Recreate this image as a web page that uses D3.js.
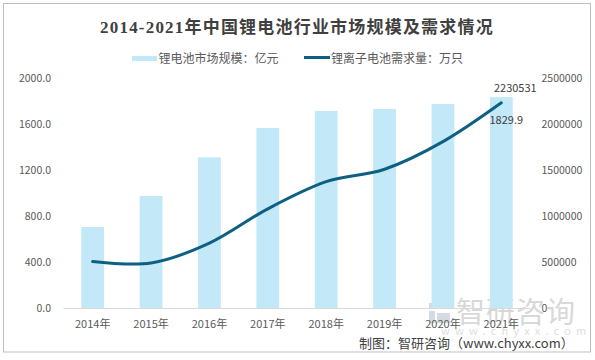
<!DOCTYPE html>
<html><head><meta charset="utf-8">
<script src="https://cdn.jsdelivr.net/npm/d3@7"></script>
<style>
html,body{margin:0;padding:0;background:#fff;}
svg{display:block;}
text{font-family:"Microsoft YaHei","Noto Sans CJK SC","Noto Sans",sans-serif;}
</style></head>
<body><svg id="c" width="595" height="360"></svg>
<script>
const categories = ["2014年","2015年","2016年","2017年","2018年","2019年","2020年","2021年"];
const marketSize = [703, 973, 1307, 1562, 1710, 1727, 1770, 1829.9];      // 亿元
const demand = [505000, 490000, 705000, 1078000, 1373000, 1508000, 1808000, 2230531]; // 万只
const leftTicks = [0, 400, 800, 1200, 1600, 2000];
const rightTicks = [0, 500000, 1000000, 1500000, 2000000, 2500000];
const title = "2014-2021年中国锂电池行业市场规模及需求情况";
const legendBar = "锂电池市场规模：亿元";
const legendLine = "锂离子电池需求量：万只";
const credit = "制图：智研咨询（www.chyxx.com）";

const svg = d3.select("#c");
const barColor = "#c3e8f8", lineColor = "#0d6082", textColor = "#595959";

// outer border
svg.append("rect").attr("x",3.5).attr("y",3.5).attr("width",587).attr("height",348.5)
  .attr("fill","none").attr("stroke","#bfbfbf").attr("stroke-width",1);

const x = d3.scaleBand().domain(categories).range([63.5, 530.5]).padding(0);
const yL = d3.scaleLinear().domain([0, 2000]).range([308, 77.5]);
const yR = d3.scaleLinear().domain([0, 2500000]).range([308, 78]);
const barW = x.bandwidth() * 0.39;

// title
svg.append("text").attr("x", 297).attr("y", 32.5).attr("text-anchor","middle")
  .attr("font-size", 17).attr("font-weight","bold").attr("fill","#404040")
  .attr("letter-spacing", 1.2)
  .style("font-family",'"Liberation Serif","Noto Sans CJK SC",serif')
  .text(title);

// legend
svg.append("rect").attr("x",132).attr("y",56).attr("width",25).attr("height",5).attr("fill",barColor);
svg.append("text").attr("x",158.5).attr("y",62.5).attr("font-size",12).attr("fill",textColor).text(legendBar);
svg.append("line").attr("x1",304).attr("x2",330).attr("y1",57.5).attr("y2",57.5)
  .attr("stroke",lineColor).attr("stroke-width",3);
svg.append("text").attr("x",331).attr("y",62.5).attr("font-size",12).attr("fill",textColor).text(legendLine);

// watermark
const wm = svg.append("g").attr("opacity",0.5);
wm.append("rect").attr("x",429).attr("y",303).attr("width",9).attr("height",6).attr("fill","#aab9c7");
wm.append("rect").attr("x",440).attr("y",303).attr("width",10).attr("height",6).attr("fill","#7fc3e8");
wm.append("rect").attr("x",429).attr("y",311).attr("width",6).attr("height",12).attr("fill","#aab9c7");
wm.append("rect").attr("x",437).attr("y",313).attr("width",13).attr("height",10).attr("fill","#aab9c7");
wm.append("text").attr("x",456).attr("y",323).attr("font-size",29).attr("fill","#b3b3b3")
  .attr("letter-spacing",1).text("智研咨询");
wm.append("text").attr("x",441).attr("y",335).attr("font-size",11).attr("fill","#c0c0c0")
  .attr("letter-spacing",5.2).text("www.chyxx.com");

// bars
svg.append("g").selectAll("rect").data(categories).join("rect")
  .attr("x", (d)=> x(d) + x.bandwidth()/2 - barW/2)
  .attr("y", (d,i)=> yL(marketSize[i]))
  .attr("width", barW)
  .attr("height", (d,i)=> yL(0) - yL(marketSize[i]))
  .attr("fill", barColor);

// x axis line
svg.append("line").attr("x1",63.5).attr("x2",530.5).attr("y1",308.5).attr("y2",308.5)
  .attr("stroke","#d9d9d9").attr("stroke-width",1);

// x labels
svg.append("g").selectAll("text").data(categories).join("text")
  .attr("x", d=> x(d) + x.bandwidth()/2).attr("y", 328)
  .attr("text-anchor","middle").attr("font-size",11).attr("fill",textColor).text(d=>d);

// left axis labels
svg.append("g").selectAll("text").data(leftTicks).join("text")
  .attr("x", 51).attr("y", d=> yL(d) + 4)
  .attr("text-anchor","end").attr("font-size",10.5).attr("fill",textColor).text(d=> d.toFixed(1));

// right axis labels
svg.append("g").selectAll("text").data(rightTicks).join("text")
  .attr("x", 541.5).attr("y", d=> yR(d) + 4)
  .attr("text-anchor","start").attr("font-size",10.5).attr("fill",textColor).text(d=> String(d));

// line
const line = d3.line()
  .x((d,i)=> x(categories[i]) + x.bandwidth()/2)
  .y(d=> yR(d))
  .curve(d3.curveCatmullRom.alpha(0));
svg.append("path").datum(demand).attr("d", line).attr("fill","none")
  .attr("stroke", lineColor).attr("stroke-width", 3).attr("stroke-linecap","round");

// data labels
const last = categories.length - 1;
const cx = x(categories[last]) + x.bandwidth()/2;
svg.append("text").attr("x", cx + 14).attr("y", yR(demand[last]) - 11)
  .attr("text-anchor","middle").attr("font-size",11).attr("fill","#404040").text(String(demand[last]));
svg.append("text").attr("x", cx + 5).attr("y", yL(marketSize[last]) + 27)
  .attr("text-anchor","middle").attr("font-size",11).attr("fill","#404040").text(marketSize[last].toFixed(1));

// credit
svg.append("text").attr("x", 359).attr("y", 347.5).attr("font-size",13).attr("fill","#404040").text(credit);
</script></body></html>
